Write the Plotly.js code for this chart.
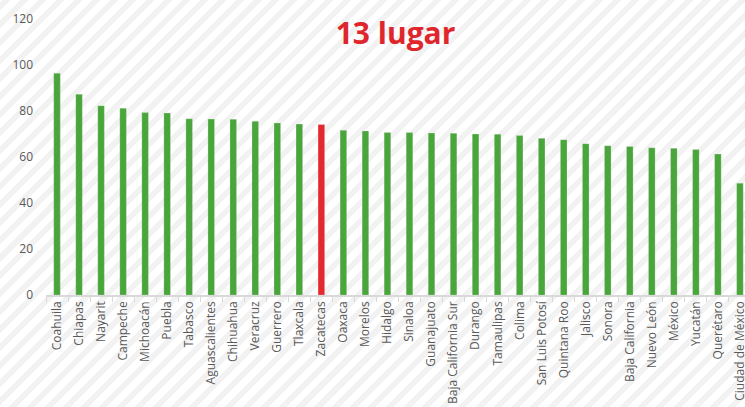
<!DOCTYPE html>
<html>
<head>
<meta charset="utf-8">
<script src="https://cdn.plot.ly/plotly-3.0.1.min.js"></script>
<style>
  html, body {
    margin: 0;
    padding: 0;
    overflow: hidden;
  }
  body {
    width: 745px;
    height: 407px;
    background: repeating-linear-gradient(-45deg, #ffffff 0px, #ffffff 7px, #f2f2f2 7px, #f2f2f2 12.7px);
  }
  #chart {
    width: 745px;
    height: 407px;
  }
</style>
</head>
<body>
<div id="chart"></div>
<script>
const states = [
  "Coahuila", "Chiapas", "Nayarit", "Campeche", "Michoacán", "Puebla",
  "Tabasco", "Aguascalientes", "Chihuahua", "Veracruz", "Guerrero", "Tlaxcala",
  "Zacatecas", "Oaxaca", "Morelos", "Hidalgo", "Sinaloa", "Guanajuato",
  "Baja California Sur", "Durango", "Tamaulipas", "Colima", "San Luis Potosí",
  "Quintana Roo", "Jalisco", "Sonora", "Baja California", "Nuevo León",
  "México", "Yucatán", "Querétaro", "Ciudad de México"
];

const scores = [
  96.4, 87.3, 82.3, 81.2, 79.3, 79.1,
  76.6, 76.5, 76.4, 75.5, 74.8, 74.3,
  74.1, 71.6, 71.3, 70.7, 70.6, 70.4,
  70.3, 70.0, 69.9, 69.3, 68.1,
  67.5, 65.8, 64.9, 64.6, 64.0,
  63.8, 63.3, 61.3, 48.6
];

const highlight = "Zacatecas";
const titleText = "13 lugar";

const barColors = states.map(s => s == highlight ? "#e3292e" : "#4aa63c");

const trace = {
  type: "bar",
  x: states,
  y: scores,
  marker: {
    color: barColors,
    line: { color: "rgba(255,255,255,0.35)", width: 0.6 },
  },
  hoverinfo: "x+y",
};

const layout = {
  width: 745,
  height: 407,
  paper_bgcolor: "rgba(0,0,0,0)",
  plot_bgcolor: "rgba(0,0,0,0)",
  margin: { l: 46, r: 0, t: 19, b: 112, pad: 0 },
  bargap: 0.7,
  showlegend: false,
  font: { family: "Open Sans", color: "#595959", size: 12 },
  title: {
    text: "<b>" + titleText + "</b>",
    font: { family: "Open Sans", size: 30, color: "#e0262d" },
    xref: "paper",
    x: 0.5,
    xanchor: "center",
    y: 0.918,
    yanchor: "middle",
  },
  xaxis: {
    type: "category",
    range: [-0.5, 31.23],
    tickangle: -90,
    tickfont: { size: 12, color: "#595959" },
    showline: true,
    linecolor: "#d9d9d9",
    linewidth: 1.5,
    ticks: "outside",
    tickson: "boundaries",
    ticklen: 5,
    tickcolor: "#d9d9d9",
    showgrid: false,
    automargin: false,
    fixedrange: true,
  },
  yaxis: {
    range: [0, 120],
    dtick: 20,
    tickfont: { size: 12, color: "#595959" },
    showgrid: false,
    zeroline: false,
    showline: false,
    ticks: "",
    ticklabelstandoff: 12,
    automargin: false,
    fixedrange: true,
  },
};

Plotly.newPlot("chart", [trace], layout, { displayModeBar: false, staticPlot: true });
</script>
</body>
</html>
